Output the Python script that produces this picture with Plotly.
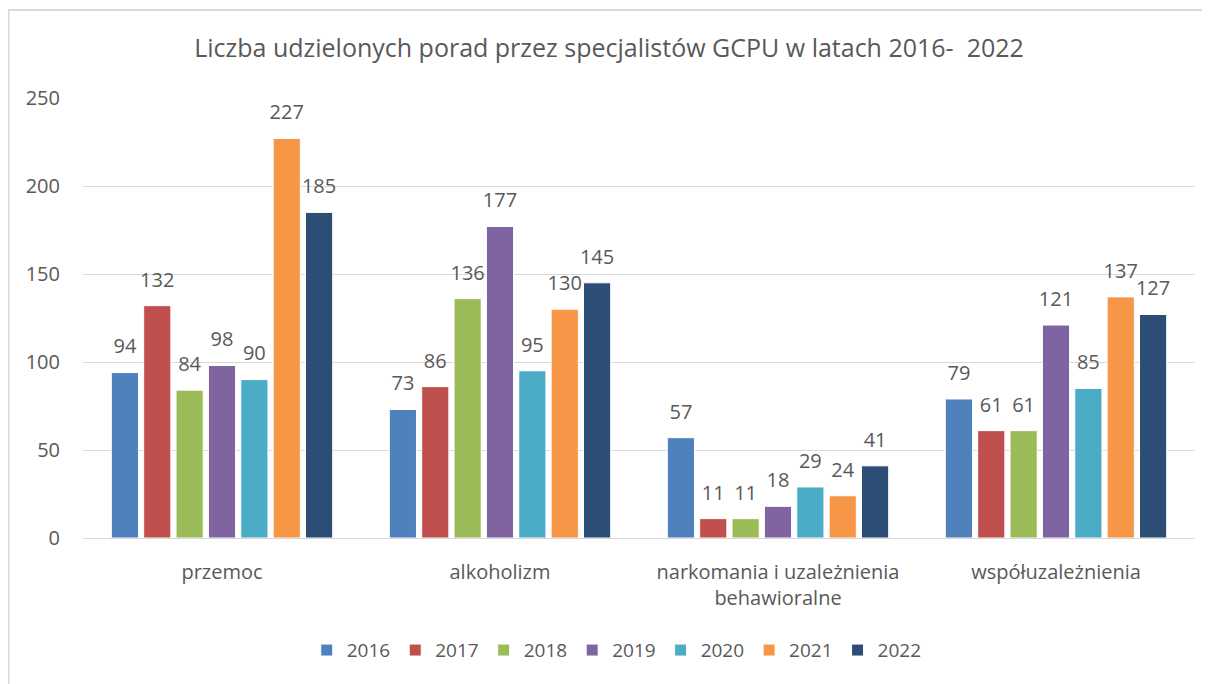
import plotly.graph_objects as go

categories = ["przemoc", "alkoholizm", "narkomania i uzależnienia<br>behawioralne", "współuzależnienia"]
years = ["2016", "2017", "2018", "2019", "2020", "2021", "2022"]
v2016 = [94, 73, 57, 79]
v2017 = [132, 86, 11, 61]
v2018 = [84, 136, 11, 61]
v2019 = [98, 177, 18, 121]
v2020 = [90, 95, 29, 85]
v2021 = [227, 130, 24, 137]
v2022 = [185, 145, 41, 127]
series = [v2016, v2017, v2018, v2019, v2020, v2021, v2022]
colors = ["#4F81BD", "#C0504D", "#9BBB59", "#8064A2", "#4BACC6", "#F79646", "#2C4D75"]
yticks = [0, 50, 100, 150, 200, 250]

FONT = "Open Sans"
GREY = "#595959"
GAP = 0.185

fig = go.Figure()
for yr, vals, c in zip(years, series, colors):
    fig.add_trace(go.Bar(
        name=yr, x=categories, y=vals,
        marker=dict(color=c, line=dict(color="white", width=1)),
    ))
for yr, vals in zip(years, series):
    fig.add_trace(go.Scatter(
        x=categories, y=vals, mode="markers+text", text=[str(v) for v in vals],
        textposition="top center", showlegend=False, hoverinfo="skip",
        marker=dict(size=21, opacity=0),
        textfont=dict(family=FONT, size=20, color=GREY), cliponaxis=False,
    ))

fig.update_layout(
    width=1202, height=676,
    barmode="group", bargap=GAP, bargroupgap=0.16,
    scattermode="group", scattergap=GAP,
    paper_bgcolor="white", plot_bgcolor="white",
    margin=dict(l=75, r=15, t=90, b=146),
    font=dict(family=FONT, color=GREY, size=16),
    title=dict(text="Liczba udzielonych porad przez specjalistów GCPU w latach 2016-  2022",
               x=0.5, xanchor="center", y=0.941, yanchor="middle",
               font=dict(family=FONT, size=25, color=GREY)),
    legend=dict(orientation="h", x=0.48, xanchor="center",
                y=-0.255, yanchor="middle",
                font=dict(family=FONT, size=19, color=GREY), traceorder="normal",
                itemwidth=30),
    showlegend=True,
)
fig.update_yaxes(range=[0, 250], tickvals=yticks, showgrid=True, gridcolor="#D9D9D9",
                 gridwidth=1, zeroline=True, zerolinecolor="#D9D9D9", zerolinewidth=1,
                 ticks="", ticklabelstandoff=22, tickfont=dict(family=FONT, size=20, color=GREY),
                 showline=False)
fig.update_xaxes(showgrid=False, ticks="", tickfont=dict(family=FONT, size=20, color=GREY),
                 showline=True, linecolor="#D9D9D9", linewidth=1, ticklabelstandoff=16)

fig.add_shape(type="rect", xref="paper", yref="paper",
              x0=-0.067, x1=1.1, y0=-0.5, y1=1.2,
              line=dict(color="#D9D9D9", width=2), fillcolor="rgba(0,0,0,0)", layer="below")

fig.write_html("out.html")
